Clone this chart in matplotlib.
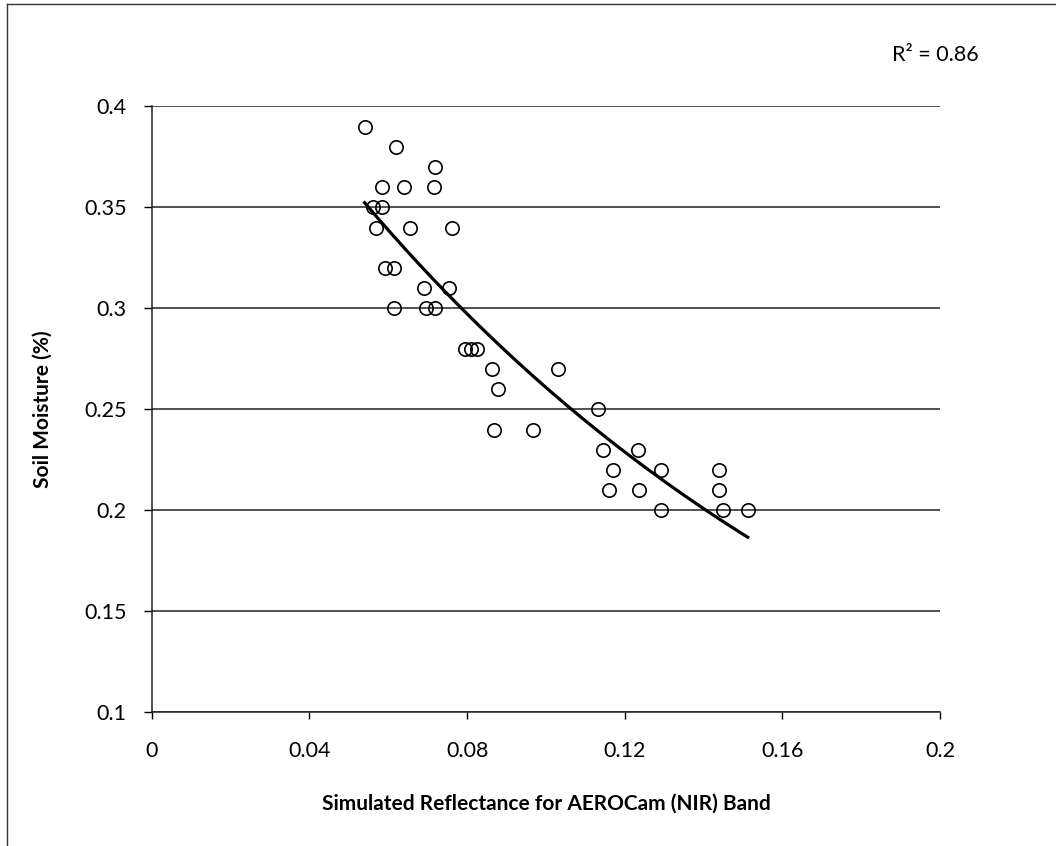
import numpy as np
import matplotlib.pyplot as plt
from matplotlib.lines import Line2D

plt.rcParams['font.family'] = ['Lato', 'DejaVu Sans']

# simulated NIR reflectance vs measured soil moisture
reflectance = [0.0540, 0.0620, 0.0719, 0.0583, 0.0639, 0.0715, 0.0561, 0.0583,
               0.0570, 0.0654, 0.0762, 0.0592, 0.0615, 0.0690, 0.0754, 0.0615,
               0.0695, 0.0718, 0.0794, 0.0810, 0.0825, 0.0862, 0.1030, 0.0879,
               0.1131, 0.0869, 0.0967, 0.1144, 0.1234, 0.1169, 0.1293, 0.1438,
               0.1159, 0.1237, 0.1438, 0.1293, 0.1450, 0.1512]
moisture = [0.39, 0.38, 0.37, 0.36, 0.36, 0.36, 0.35, 0.35,
            0.34, 0.34, 0.34, 0.32, 0.32, 0.31, 0.31, 0.30,
            0.30, 0.30, 0.28, 0.28, 0.28, 0.27, 0.27, 0.26,
            0.25, 0.24, 0.24, 0.23, 0.23, 0.22, 0.22, 0.22,
            0.21, 0.21, 0.21, 0.20, 0.20, 0.20]
r2_label = "R² = 0.86"

x = np.array(reflectance)
y = np.array(moisture)

# exponential trend line, fitted on log(y)
b, ln_a = np.polyfit(x, np.log(y), 1)
xt = np.linspace(x.min(), x.max(), 200)
yt = np.exp(ln_a) * np.exp(b * xt)

fig = plt.figure(figsize=(10.56, 8.46), dpi=100)
ax = fig.add_axes([0.1437, 0.158, 0.7465, 0.7163])

ax.plot(x, y, 'o', mfc='none', mec='black', ms=9.6, mew=1.2, zorder=3)
ax.plot(xt, yt, color='black', lw=2.3, zorder=4)

ax.set_xlim(0, 0.2)
ax.set_ylim(0.1, 0.4)
ax.set_xticks([0, 0.04, 0.08, 0.12, 0.16, 0.2])
ax.set_xticklabels(['0', '0.04', '0.08', '0.12', '0.16', '0.2'])
ax.set_yticks(np.arange(0.1, 0.401, 0.05))
ax.set_yticklabels(['0.1', '0.15', '0.2', '0.25', '0.3', '0.35', '0.4'])
ax.yaxis.grid(True, color='#222222', lw=1.1)
ax.set_axisbelow(True)

for s in ['top', 'right']:
    ax.spines[s].set_visible(False)
for s in ['left', 'bottom']:
    ax.spines[s].set_color('#222222')
    ax.spines[s].set_linewidth(1.1)
ax.tick_params(axis='both', direction='out', width=1.0,
               labelsize=15.5, colors='black')
ax.tick_params(axis='x', length=5, pad=16)
ax.tick_params(axis='y', length=6, pad=12)

ax.set_xlabel('Simulated Reflectance for AEROCam (NIR) Band',
              fontsize=15, fontweight='bold', labelpad=23)
ax.set_ylabel('Soil Moisture (%)', fontsize=15, fontweight='bold', labelpad=23)

fig.text(0.886, 0.935, r2_label, fontsize=15.5, ha='center', va='center')

# chart frame (left and top edges)
fig.add_artist(Line2D([0.0066, 0.0066], [0.0, 0.995], color='#333333', lw=1.0))
fig.add_artist(Line2D([0.0066, 1.0], [0.995, 0.995], color='#333333', lw=1.0))

fig.savefig('out.png', dpi=100)
